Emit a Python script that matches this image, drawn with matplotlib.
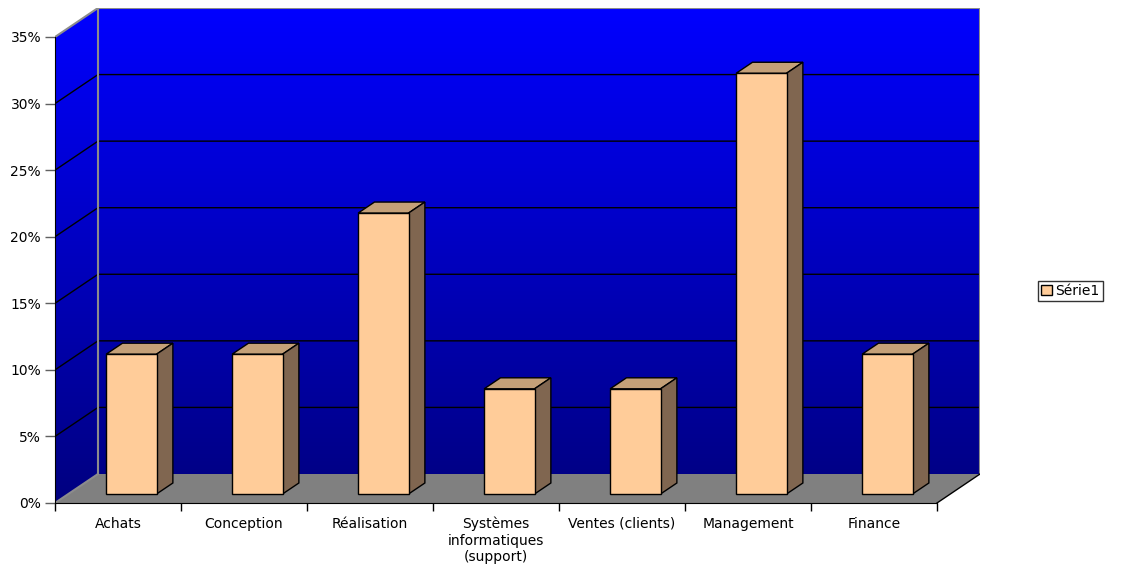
import matplotlib
matplotlib.use("Agg")
import matplotlib.pyplot as plt
import numpy as np
from matplotlib.patches import Polygon, Patch

plt.rcParams['font.family'] = ['DejaVu Sans']

categories = ["Achats", "Conception", "Réalisation",
              "Systèmes\ninformatiques\n(support)", "Ventes (clients)",
              "Management", "Finance"]
values = [10.5, 10.5, 21.1, 7.9, 7.9, 31.6, 10.5]   # percent
series_name = "Série1"
yticks = [0, 5, 10, 15, 20, 25, 30, 35]
ytick_labels = ["0%", "5%", "10%", "15%", "20%", "25%", "30%", "35%"]

W, H = 1121, 572
fig = plt.figure(figsize=(W / 100, H / 100), dpi=100)

# pixel geometry of the 3D frame
x_left, x_front_right, y_zero, y_top = 55, 937, 503, 37
depth_px_x, depth_px_y = 43, 29
n = len(categories)
ymax = 35
px_per_cat = (x_front_right - x_left) / n
px_per_pct = (y_zero - y_top) / ymax
DX = depth_px_x / px_per_cat
DY = depth_px_y / px_per_pct

ax = fig.add_axes([x_left / W, (H - y_zero) / H,
                   (x_front_right - x_left + depth_px_x) / W,
                   (y_zero - y_top + depth_px_y) / H])
ax.set_xlim(0, n + DX)
ax.set_ylim(0, ymax + DY)


def proj(x, v, d):
    return (x + d * DX, v + d * DY)


# walls gradient (back + left)
grad = np.linspace(0, 1, 256)
cols = np.zeros((256, 1, 3))
cols[:, 0, 2] = 0.5 + 0.5 * grad
im = ax.imshow(cols, extent=(0, n + DX, 0, ymax + DY), origin='lower',
               aspect='auto', interpolation='bilinear', zorder=0)
wall_pts = [proj(0, 0, 0), proj(0, ymax, 0), proj(0, ymax, 1),
            proj(n, ymax, 1), proj(n, 0, 1), proj(0, 0, 1)]
wall_poly = Polygon(wall_pts, closed=True, transform=ax.transData,
                    facecolor='none', edgecolor='none')
ax.add_patch(wall_poly)
im.set_clip_path(wall_poly)

# floor
floor = Polygon([proj(0, 0, 0), proj(n, 0, 0), proj(n, 0, 1), proj(0, 0, 1)],
                closed=True, facecolor='#808080', edgecolor='none', zorder=1)
ax.add_patch(floor)

# gridlines
for v in yticks[1:-1]:
    xs, ys = zip(proj(0, v, 0), proj(0, v, 1), proj(n, v, 1))
    ax.plot(xs, ys, color='black', lw=1, zorder=2)
# frame borders (gray)
gray = '#8c8c8c'
for a, b in [((0, ymax, 0), (0, ymax, 1)), ((0, ymax, 1), (n, ymax, 1)),
             ((0, 0, 1), (0, ymax, 1)), ((n, 0, 1), (n, ymax, 1)),
             ((0, 0, 0), (0, 0, 1))]:
    p, q = proj(*a), proj(*b)
    ax.plot([p[0], q[0]], [p[1], q[1]], color=gray, lw=1.5, zorder=2)
p, q = proj(n, 0, 0), proj(n, 0, 1)
ax.plot([p[0], q[0]], [p[1], q[1]], color='black', lw=1, zorder=2)

# bars
d0, d1 = 0.31, 0.69
bw = 0.4
front_c, top_c, side_c = '#FFCC99', '#C4A078', '#806650'
centers = np.arange(n) + 0.5
ax.bar(centers + d0 * DX, values, width=bw, bottom=d0 * DY,
       color=front_c, edgecolor='black', linewidth=1, zorder=4)
for c, v in zip(centers, values):
    x0, x1 = c - bw / 2, c + bw / 2
    top = [proj(x0, v, d0), proj(x1, v, d0), proj(x1, v, d1), proj(x0, v, d1)]
    side = [proj(x1, 0, d0), proj(x1, 0, d1), proj(x1, v, d1), proj(x1, v, d0)]
    ax.add_patch(Polygon(top, closed=True, facecolor=top_c, edgecolor='black',
                         lw=1, zorder=3))
    ax.add_patch(Polygon(side, closed=True, facecolor=side_c, edgecolor='black',
                         lw=1, zorder=3))

# axes, ticks
for s in ['top', 'right']:
    ax.spines[s].set_visible(False)
ax.spines['left'].set_bounds(0, ymax)
ax.spines['bottom'].set_bounds(0, n)
ax.spines['left'].set_zorder(5)
ax.spines['bottom'].set_zorder(5)
ax.set_yticks(yticks)
ax.set_yticklabels(ytick_labels)
ax.tick_params(axis='y', length=7, width=1, color='#606060', labelsize=10, pad=3)
ax.set_xticks(np.arange(n + 1), minor=True)
ax.set_xticks(centers)
ax.set_xticklabels(categories, linespacing=1.2)
ax.tick_params(axis='x', which='major', length=0, labelsize=10, pad=10)
ax.tick_params(axis='x', which='minor', length=6, width=1, color='black')

fig.legend(handles=[Patch(facecolor=front_c, edgecolor='black', label=series_name)],
           loc='center left', bbox_to_anchor=(1038 / W, 1 - 291 / H),
           frameon=True, fancybox=False, edgecolor='black', fontsize=10,
           handlelength=0.75, handleheight=0.75, handletextpad=0.25,
           borderpad=0.25, borderaxespad=0)

fig.savefig("out.png", dpi=100)
